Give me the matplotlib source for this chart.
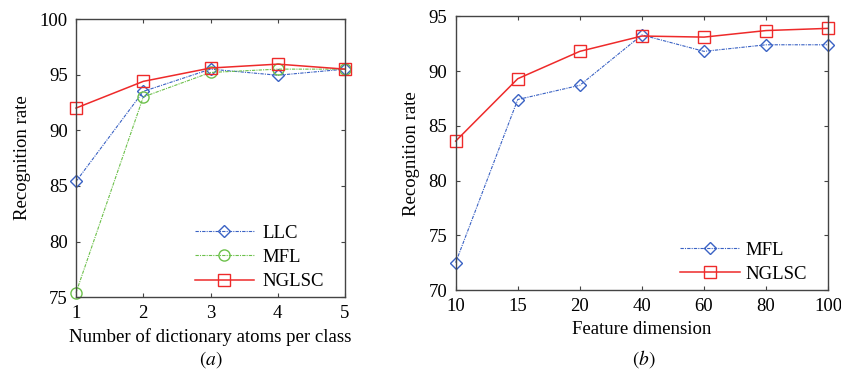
import matplotlib
matplotlib.use('Agg')
from matplotlib import pyplot as plt

# Recognition rate vs number of dictionary atoms per class
atoms = [1, 2, 3, 4, 5]
llc_atoms = [85.4, 93.5, 95.5, 94.95, 95.5]
mfl_atoms = [75.4, 93.0, 95.2, 95.5, 95.5]
nglsc_atoms = [92.0, 94.4, 95.6, 95.95, 95.5]

# Recognition rate vs feature dimension
dims = ['10', '15', '20', '40', '60', '80', '100']
mfl_dims = [72.5, 87.4, 88.7, 93.3, 91.8, 92.4, 92.4]
nglsc_dims = [83.6, 89.3, 91.8, 93.2, 93.1, 93.7, 93.9]

plt.rcParams['font.family'] = ['Liberation Serif', 'DejaVu Serif']
plt.rcParams['font.size'] = 13.5
plt.rcParams['mathtext.fontset'] = 'stix'

blue = '#3a62c4'
green = '#6cc04a'
red = '#ee2a2a'
dashdot = (0, (3, 1, 1, 1))

fig = plt.figure(figsize=(8.41, 3.70), dpi=100)
ax1 = fig.add_axes([0.0904, 0.197, 0.3199, 0.7514])
ax2 = fig.add_axes([0.5418, 0.2162, 0.4430, 0.7397])

ax1.plot(atoms, llc_atoms, color=blue, ls=dashdot, lw=0.8, marker='D',
         ms=6, mfc='none', mec=blue, mew=1.0, label='LLC', clip_on=False)
ax1.plot(atoms, mfl_atoms, color=green, ls=dashdot, lw=0.8, marker='o',
         ms=8, mfc='none', mec=green, mew=1.0, label='MFL', clip_on=False)
ax1.plot(atoms, nglsc_atoms, color=red, ls='-', lw=1.1, marker='s',
         ms=8, mfc='none', mec=red, mew=1.0, label='NGLSC', clip_on=False)
ax1.set_xlim(1, 5)
ax1.set_ylim(75, 100)
ax1.set_xticks(atoms)
ax1.set_yticks([75, 80, 85, 90, 95, 100])
ax1.set_xlabel('Number of dictionary atoms per class', labelpad=4)
ax1.set_ylabel('Recognition rate', labelpad=6)
ax1.legend(loc='lower left', bbox_to_anchor=(0.42, 0.005), frameon=False,
           handlelength=3.15, handletextpad=0.48, labelspacing=0.38,
           borderaxespad=0, borderpad=0.3)

x = list(range(len(dims)))
ax2.plot(x, mfl_dims, color=blue, ls=dashdot, lw=0.8, marker='D',
         ms=6, mfc='none', mec=blue, mew=1.0, label='MFL', clip_on=False)
ax2.plot(x, nglsc_dims, color=red, ls='-', lw=1.1, marker='s',
         ms=8, mfc='none', mec=red, mew=1.0, label='NGLSC', clip_on=False)
ax2.set_xlim(0, len(dims) - 1)
ax2.set_ylim(70, 95)
ax2.set_xticks(x)
ax2.set_xticklabels(dims)
ax2.set_yticks([70, 75, 80, 85, 90, 95])
ax2.set_xlabel('Feature dimension', labelpad=4)
ax2.set_ylabel('Recognition rate', labelpad=6)
ax2.legend(loc='lower left', bbox_to_anchor=(0.588, 0.005), frameon=False,
           handlelength=3.2, handletextpad=0.25, labelspacing=0.38,
           borderaxespad=0, borderpad=0.3)

for ax in (ax1, ax2):
    ax.tick_params(direction='in', top=True, right=True, length=3, width=0.8,
                   pad=6, labelsize=13.5, color='#444444')
    for s in ax.spines.values():
        s.set_linewidth(1.0)
        s.set_color('#444444')

fig.text(0.2504, 0.0, '$(a)$', ha='center', va='bottom', fontsize=14)
fig.text(0.7653, 0.0, '$(b)$', ha='center', va='bottom', fontsize=14)

fig.savefig('out.png', dpi=100)
